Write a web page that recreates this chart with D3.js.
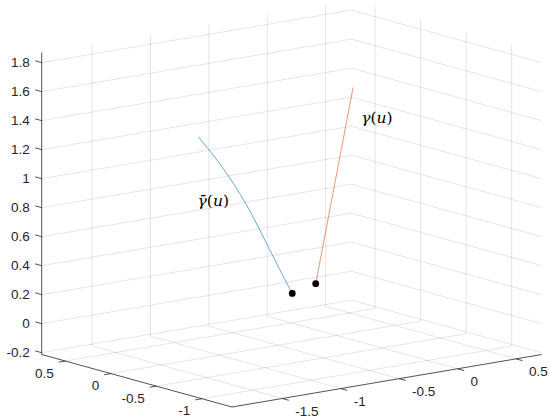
<!DOCTYPE html>
<html>
<head>
<meta charset="utf-8">
<script src="https://cdn.jsdelivr.net/npm/d3@7"></script>
<style>
  body { margin: 0; background: #fff; }
  .tick-label { font-family: "Liberation Sans", Arial, sans-serif; font-size: 13.5px; fill: #262626; }
  .curve-label { font-family: "DejaVu Serif", serif; font-size: 15.5px; fill: #000; }
</style>
</head>
<body>
<script>
// axis limits and ticks
var xLim = [-1.93, 0.72],
    yLim = [-1.33, 0.76],
    zLim = [-0.2125, 1.87];
var xTicks = [-1.5, -1, -0.5, 0, 0.5];
var yTicks = [-1, -0.5, 0, 0.5];
var zTicks = [-0.2, 0, 0.2, 0.4, 0.6, 0.8, 1, 1.2, 1.4, 1.6, 1.8];
var xTickLabels = ["-1.5", "-1", "-0.5", "0", "0.5"];
var yTickLabels = ["-1", "-0.5", "0", "0.5"];
var zTickLabels = ["-0.2", "0", "0.2", "0.4", "0.6", "0.8", "1", "1.2", "1.4", "1.6", "1.8"];

// gamma bar (blue)
var gbarX = [-0.824, -0.70, -0.578, -0.469, -0.371, -0.283, -0.197, -0.11, -0.02];
var gbarY = [0.46, 0.46, 0.46, 0.46, 0.46, 0.46, 0.46, 0.46, 0.46];
var gbarZ = [1.19, 1.05, 0.90, 0.75, 0.60, 0.45, 0.30, 0.15, 0.00];

// gamma (orange)
var gamX = [0.29, 0.45, 0.61];
var gamY = [0.6, 0.6, 0.6];
var gamZ = [0, 0.655, 1.31];

// start points
var dotX = [-0.02, 0.29];
var dotY = [0.46, 0.6];
var dotZ = [0.00, 0];

// curve labels, anchored in data space
var labelText = ["bar", "plain"];
var labelX = [-0.83, 0.68];
var labelY = [0.46, 0.6];
var labelZ = [0.75, 1.09];

var width = 550, height = 420;

// projected box: origin corner (xmin, ymax, zmin) and edge vectors
var origin = [41.7, 354.5],
    xVec = [309.7, -52.5],
    yVec = [190.3, 52.5],
    zVec = [0, -302];

var sx = d3.scaleLinear().domain(xLim).range([0, 1]);
var sy = d3.scaleLinear().domain(yLim).range([1, 0]);
var sz = d3.scaleLinear().domain(zLim).range([0, 1]);

function proj(x, y, z) {
  var a = sx(x), b = sy(y), c = sz(z);
  return [origin[0] + a * xVec[0] + b * yVec[0] + c * zVec[0],
          origin[1] + a * xVec[1] + b * yVec[1] + c * zVec[1]];
}

var svg = d3.select("body").append("svg")
    .attr("width", width)
    .attr("height", height);

svg.append("rect").attr("width", width).attr("height", height).attr("fill", "#fff");

var line = d3.line();
var grid = svg.append("g")
    .attr("fill", "none")
    .attr("stroke", "#262626")
    .attr("stroke-opacity", 0.15)
    .attr("stroke-width", 0.8);

function seg(g, p, q) {
  g.append("path").attr("d", line([p, q]));
}

// back-left wall (y = ymax)
xTicks.forEach(function(t) { seg(grid, proj(t, yLim[1], zLim[0]), proj(t, yLim[1], zLim[1])); });
zTicks.forEach(function(t) { seg(grid, proj(xLim[0], yLim[1], t), proj(xLim[1], yLim[1], t)); });
// back-right wall (x = xmax)
yTicks.forEach(function(t) { seg(grid, proj(xLim[1], t, zLim[0]), proj(xLim[1], t, zLim[1])); });
zTicks.forEach(function(t) { seg(grid, proj(xLim[1], yLim[1], t), proj(xLim[1], yLim[0], t)); });
// floor
xTicks.forEach(function(t) { seg(grid, proj(t, yLim[1], zLim[0]), proj(t, yLim[0], zLim[0])); });
yTicks.forEach(function(t) { seg(grid, proj(xLim[0], t, zLim[0]), proj(xLim[1], t, zLim[0])); });

// axis lines and ticks
var axes = svg.append("g")
    .attr("fill", "none")
    .attr("stroke", "#262626")
    .attr("stroke-width", 0.8);

seg(axes, proj(xLim[0], yLim[1], zLim[0]), proj(xLim[0], yLim[1], zLim[1]));
seg(axes, proj(xLim[0], yLim[1], zLim[0]), proj(xLim[0], yLim[0], zLim[0]));
seg(axes, proj(xLim[0], yLim[0], zLim[0]), proj(xLim[1], yLim[0], zLim[0]));

function unit(v) { var n = Math.hypot(v[0], v[1]); return [v[0] / n, v[1] / n]; }
var ux = unit(xVec), uy = unit(yVec);
var tickLen = 6.8;

var labels = svg.append("g").attr("class", "tick-label");

zTicks.forEach(function(t, i) {
  var p = proj(xLim[0], yLim[1], t);
  seg(axes, p, [p[0] - uy[0] * tickLen, p[1] - uy[1] * tickLen]);
  labels.append("text")
      .attr("x", p[0] - 12).attr("y", p[1])
      .attr("dy", "0.35em")
      .attr("text-anchor", "end")
      .text(zTickLabels[i]);
});

yTicks.forEach(function(t, i) {
  var p = proj(xLim[0], t, zLim[0]);
  seg(axes, p, [p[0] - ux[0] * tickLen, p[1] - ux[1] * tickLen]);
  labels.append("text")
      .attr("x", p[0] - 11.7).attr("y", p[1] + 11.8)
      .attr("dy", "0.35em")
      .attr("text-anchor", "end")
      .text(yTickLabels[i]);
});

xTicks.forEach(function(t, i) {
  var p = proj(t, yLim[0], zLim[0]);
  seg(axes, p, [p[0] + uy[0] * tickLen, p[1] + uy[1] * tickLen]);
  labels.append("text")
      .attr("x", p[0] + 13).attr("y", p[1] + 12.8)
      .attr("dy", "0.35em")
      .attr("text-anchor", "start")
      .text(xTickLabels[i]);
});

// curves
var gbarPts = gbarX.map(function(d, i) { return proj(d, gbarY[i], gbarZ[i]); });
var gamPts = gamX.map(function(d, i) { return proj(d, gamY[i], gamZ[i]); });

svg.append("path")
    .attr("d", d3.line().curve(d3.curveCatmullRom)(gbarPts))
    .attr("fill", "none")
    .attr("stroke", "#0072BD")
    .attr("stroke-width", 0.6);

svg.append("path")
    .attr("d", line(gamPts))
    .attr("fill", "none")
    .attr("stroke", "#D95319")
    .attr("stroke-width", 0.6);

svg.selectAll("circle.start")
    .data(dotX)
    .enter().append("circle")
    .attr("class", "start")
    .attr("cx", function(d, i) { return proj(d, dotY[i], dotZ[i])[0]; })
    .attr("cy", function(d, i) { return proj(d, dotY[i], dotZ[i])[1]; })
    .attr("r", 3.4)
    .attr("fill", "#000");

// curve labels
labelText.forEach(function(k, i) {
  var p = proj(labelX[i], labelY[i], labelZ[i]);
  var t = svg.append("text")
      .attr("class", "curve-label")
      .attr("x", p[0]).attr("y", p[1])
      .attr("dy", "0.35em");
  t.append("tspan").attr("font-style", "italic").text(k == "bar" ? "\u03B3\u0304" : "\u03B3");
  t.append("tspan").text("(");
  t.append("tspan").attr("font-style", "italic").text("u");
  t.append("tspan").text(")");
});
</script>
</body>
</html>
